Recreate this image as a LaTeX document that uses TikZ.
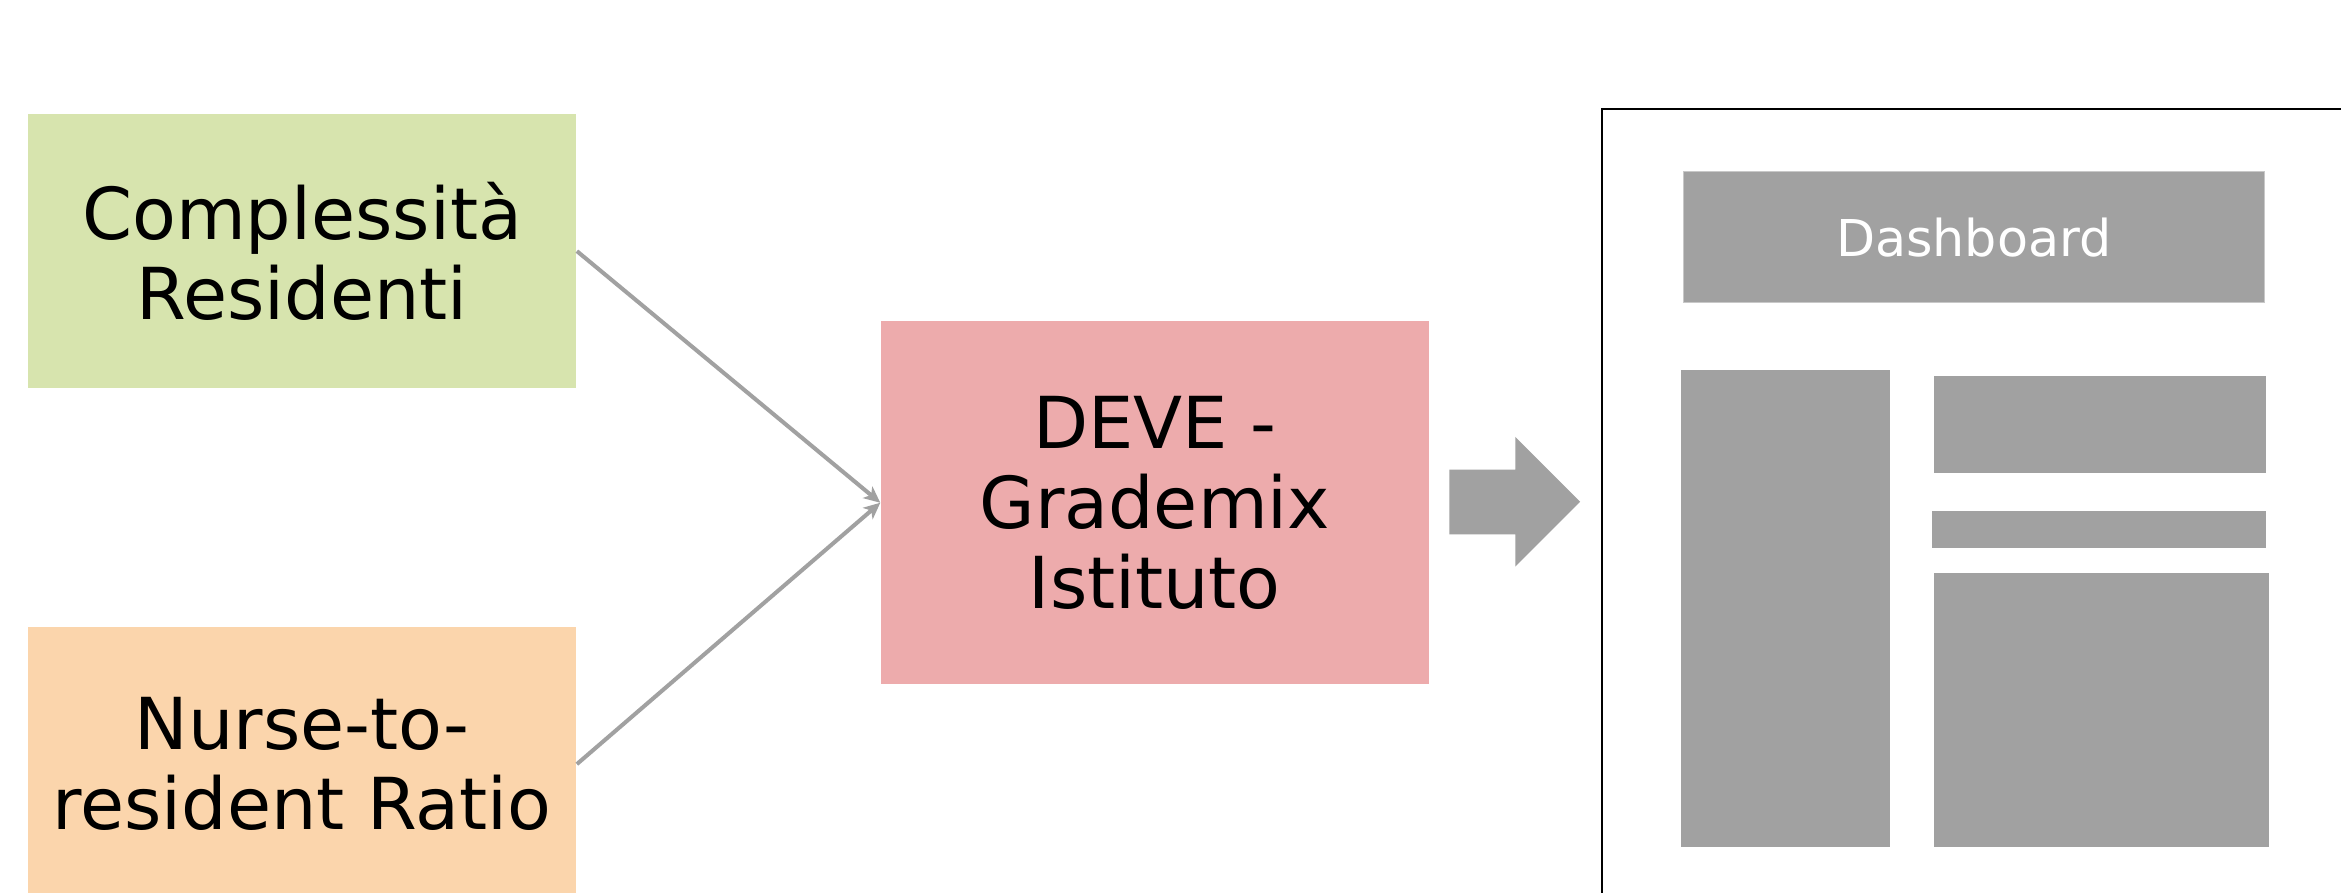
\documentclass[tikz,border=0pt]{standalone}
\usepackage{fontspec}
\setmainfont{DejaVu Sans}
\usetikzlibrary{arrows.meta}
\definecolor{cgreen}{HTML}{D7E4AE}
\definecolor{corange}{HTML}{FBD5AC}
\definecolor{cpink}{HTML}{EDABAC}
\definecolor{cgray}{HTML}{A1A1A1}
\definecolor{cedge}{HTML}{C8C8C8}
\begin{document}
\begin{tikzpicture}[x=0.5pt,y=-0.5pt,
  box/.style={rectangle, inner sep=0pt, align=center, text=black,
    font=\fontsize{24}{26.9}\selectfont},
  panel/.style={rectangle, fill=cgray, inner sep=0pt},
  conn/.style={draw=cgray, line width=1.35pt,
    -{Stealth[length=5.5pt,width=5pt,inset=1.5pt]}},
  blockarrow/.style={fill=cgray}
]
\path[use as bounding box] (0,0) rectangle (1568,597.5);
\clip (0,0) rectangle (1568,597.5);
\fill[white] (0,0) rectangle (1568,597.5);

% input boxes
\node[box, fill=cgreen, minimum width=183.6pt, minimum height=91.8pt]
  (cr) at (202.4,168.2) {Complessità\\Residenti};
\node[box, fill=corange, minimum width=183.6pt, minimum height=91.8pt]
  (nr) at (202.4,511.8) {Nurse-to-\\resident Ratio};

% central box
\node[box, fill=cpink, minimum width=183.5pt, minimum height=121.65pt]
  (deve) at (773.5,336.75) {DEVE -\\Grademix\\Istituto};

% connectors
\draw[conn] (cr.east) -- (deve.west);
\draw[conn] (nr.east) -- (deve.west);

% block arrow
\fill[blockarrow] (970.7,314.5) -- (1014.9,314.5) -- (1014.9,292.6)
  -- (1058.3,336.1) -- (1014.9,379.6) -- (1014.9,358) -- (970.7,358) -- cycle;

% screen frame
\node[draw=black, line width=0.8pt, rectangle, inner sep=0pt,
  minimum width=283.6pt, minimum height=288.55pt] (screen) at (1356.4,361.45) {};

% dashboard panels
\node[panel, draw=cedge, line width=0.4pt, minimum width=194.55pt, minimum height=43.9pt,
  text=white, font=\fontsize{17}{20}\selectfont] (dash) at (1322,158.9) {Dashboard};
\node[panel, minimum width=70pt, minimum height=159.95pt] (lcol) at (1196,407.65) {};
\node[panel, minimum width=111.15pt, minimum height=32.35pt] (rtop) at (1406.65,284.15) {};
\node[panel, minimum width=111.95pt, minimum height=12.5pt] (rbar) at (1405.85,354.8) {};
\node[panel, minimum width=112.05pt, minimum height=91.95pt] (rbot) at (1407.55,475.65) {};
\end{tikzpicture}
\end{document}
